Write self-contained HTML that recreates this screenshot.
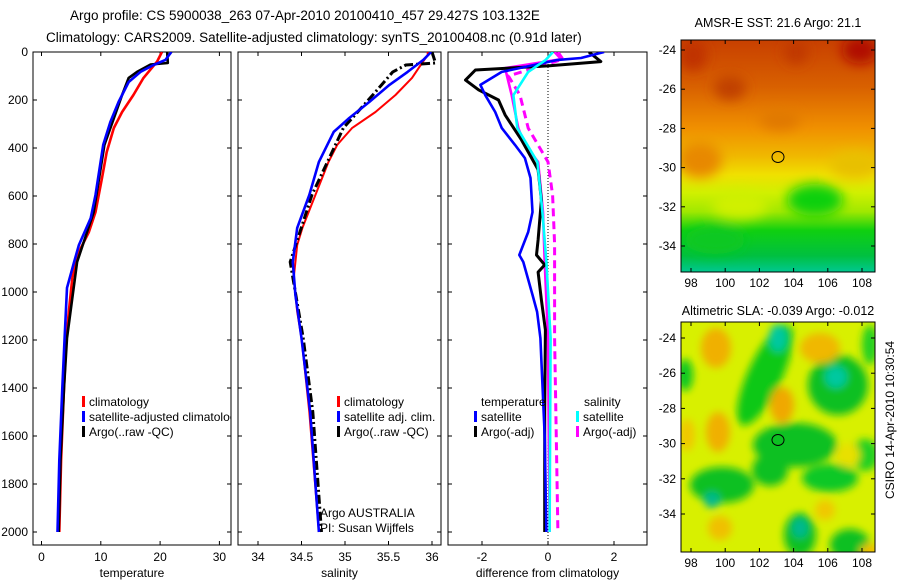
<!DOCTYPE html>
<html><head><meta charset="utf-8"><style>
body{margin:0;background:#fff;}
svg text{font-family:"Liberation Sans",sans-serif;}
</style></head><body>
<svg id="fig" width="900" height="580" viewBox="0 0 900 580" xmlns="http://www.w3.org/2000/svg">
<defs>
<filter id="blur1" x="-20%" y="-20%" width="140%" height="140%"><feGaussianBlur stdDeviation="6"/></filter>
<filter id="blur2" x="-20%" y="-20%" width="140%" height="140%"><feGaussianBlur stdDeviation="4"/></filter>
<clipPath id="cm1"><rect x="681" y="40" width="194" height="232"/></clipPath>
<clipPath id="cm2"><rect x="681" y="322" width="194" height="230"/></clipPath>
<clipPath id="cp1"><rect x="33" y="52" width="198" height="493"/></clipPath>
<clipPath id="cp2"><rect x="238" y="52" width="203" height="493"/></clipPath>
<clipPath id="cp3"><rect x="448" y="52" width="199" height="493"/></clipPath>
<linearGradient id="sstg" x1="0" y1="0" x2="0" y2="1">
<stop offset="0" stop-color="#c84000"/><stop offset="0.2" stop-color="#d86000"/><stop offset="0.38" stop-color="#f09000"/>
<stop offset="0.5" stop-color="#f0b800"/><stop offset="0.58" stop-color="#f0e000"/><stop offset="0.66" stop-color="#d0f000"/>
<stop offset="0.74" stop-color="#a0e800"/><stop offset="0.82" stop-color="#10d010"/><stop offset="0.93" stop-color="#00c040"/><stop offset="1" stop-color="#00c890"/>
</linearGradient>
</defs>
<text x="70" y="20" font-size="13.5">Argo profile: CS 5900038_263 07-Apr-2010 20100410_457 29.427S 103.132E</text>
<text x="46" y="42" font-size="13.5">Climatology: CARS2009. Satellite-adjusted climatology: synTS_20100408.nc (0.91d later)</text>
<g id="p1"></g>
<g id="p2"></g>
<g id="p3"></g>

<g>
<text x="778" y="27" font-size="12.5" text-anchor="middle">AMSR-E SST: 21.6 Argo: 21.1</text>
<g clip-path="url(#cm1)">
<rect x="681" y="40" width="194" height="232" fill="url(#sstg)"/>
<g filter="url(#blur1)">
<ellipse cx="860" cy="50" rx="18" ry="14" fill="#b00800"/>
<ellipse cx="693" cy="55" rx="14" ry="16" fill="#c03000"/>
<ellipse cx="730" cy="88" rx="16" ry="12" fill="#c04000"/>
<ellipse cx="796" cy="52" rx="12" ry="12" fill="#c03800"/>
<ellipse cx="700" cy="160" rx="22" ry="18" fill="#e88800"/>
<ellipse cx="780" cy="120" rx="20" ry="10" fill="#e07800"/>
<ellipse cx="855" cy="165" rx="25" ry="14" fill="#e8c000"/>
<ellipse cx="815" cy="200" rx="28" ry="16" fill="#10d010"/>
<ellipse cx="740" cy="205" rx="28" ry="14" fill="#d0f000"/>
<ellipse cx="715" cy="240" rx="30" ry="14" fill="#10c820"/>
</g>
</g>
<rect x="681" y="40" width="194" height="232" fill="none" stroke="#000"/>
<ellipse cx="778" cy="157" rx="6" ry="5.5" fill="none" stroke="#000"/>
<g id="m1ax"></g>
</g>

<g>
<text x="778" y="315" font-size="12.5" text-anchor="middle">Altimetric SLA: -0.039 Argo: -0.012</text>
<g clip-path="url(#cm2)">
<rect x="681" y="322" width="194" height="230" fill="#d8f000"/>
<g filter="url(#blur2)">
<ellipse cx="765" cy="375" rx="17" ry="55" fill="#10c818" transform="rotate(25 765 375)"/>
<ellipse cx="795" cy="445" rx="42" ry="22" fill="#10c020"/>
<ellipse cx="770" cy="470" rx="18" ry="16" fill="#10c020"/>
<ellipse cx="838" cy="385" rx="30" ry="30" fill="#10c020"/>
<ellipse cx="865" cy="455" rx="14" ry="16" fill="#20d020"/>
<ellipse cx="722" cy="485" rx="32" ry="18" fill="#10c020"/>
<ellipse cx="830" cy="478" rx="28" ry="14" fill="#10c828"/>
<ellipse cx="800" cy="535" rx="16" ry="22" fill="#10c020"/>
<ellipse cx="850" cy="545" rx="20" ry="16" fill="#10c020"/>
<ellipse cx="685" cy="375" rx="8" ry="16" fill="#10c820"/>
<ellipse cx="870" cy="345" rx="8" ry="20" fill="#20d020"/>
<ellipse cx="778" cy="338" rx="9" ry="14" fill="#00c8a0"/>
<ellipse cx="836" cy="377" rx="11" ry="11" fill="#00c8a0"/>
<ellipse cx="800" cy="528" rx="8" ry="10" fill="#00b890"/>
<ellipse cx="712" cy="500" rx="8" ry="8" fill="#00b890"/>
<ellipse cx="716" cy="348" rx="15" ry="20" fill="#f0b000"/>
<ellipse cx="718" cy="432" rx="12" ry="20" fill="#f0b000"/>
<ellipse cx="687" cy="435" rx="8" ry="16" fill="#f0c800"/>
<ellipse cx="782" cy="405" rx="12" ry="18" fill="#f0a800"/>
<ellipse cx="820" cy="348" rx="20" ry="15" fill="#f0b800"/>
<ellipse cx="848" cy="455" rx="12" ry="12" fill="#e8e000"/>
<ellipse cx="720" cy="528" rx="12" ry="12" fill="#f0c000"/>
<ellipse cx="825" cy="510" rx="10" ry="10" fill="#f0c800"/>
<ellipse cx="870" cy="552" rx="10" ry="8" fill="#f0c000"/>
</g>
</g>
<rect x="681" y="322" width="194" height="230" fill="none" stroke="#000"/>
<ellipse cx="778" cy="440" rx="6" ry="5.5" fill="none" stroke="#000"/>
<g id="m2ax"></g>
</g>
<text transform="translate(894,420) rotate(-90)" font-size="12" text-anchor="middle">CSIRO 14-Apr-2010 10:30:54</text>
</svg>
<script>
// ---- data ----
const depthTempClim=[0,40,108,179,250,317,417,525,667,750,833,942,1083,1192,1400,1700,2000];
const tempClim=[20.3,19.5,17.2,15.5,13.6,12.2,11.0,10.2,9.1,8.0,6.3,5.2,4.6,4.2,3.8,3.3,3.0];
const depthTempSat=[0,33,54,83,125,208,292,387,596,692,804,875,983,1192,1400,1700,2000];
const tempSat=[21.9,20.9,18.9,16.7,14.7,13.0,11.6,10.4,9.1,8.3,6.3,5.5,4.3,3.9,3.5,3.0,2.7];
const depthTempArgo=[0,46,52,83,108,179,387,667,875,1192,1400,1700,2000];
const tempArgo=[21.2,21.3,18.4,16.1,14.7,13.6,10.6,8.8,6.0,4.3,3.8,3.2,2.9];
const depthSalClim=[0,12,54,108,179,250,317,387,458,596,733,804,942,1083,1192,1500,2000];
const salClim=[35.95,35.95,35.87,35.77,35.58,35.35,35.08,34.91,34.81,34.66,34.51,34.45,34.41,34.45,34.5,34.59,34.70];
const depthSalSat=[0,33,83,137,208,275,333,458,596,733,875,1012,1192,1500,2000];
const salSat=[35.99,35.9,35.72,35.51,35.28,35.05,34.87,34.70,34.59,34.45,34.40,34.43,34.5,34.6,34.70];
const depthSalArgo=[0,46,54,83,179,317,596,875,1192,1500,2000];
const salArgo=[36.0,36.04,35.70,35.55,35.32,34.98,34.62,34.37,34.52,34.63,34.73];
const depthDiffTArgo=[0,40,58,75,117,158,200,262,367,490,617,783,846,887,917,1033,1158,1500,2000];
const diffTArgo=[1.24,1.6,0,-2.2,-2.5,-2.1,-1.5,-1.3,-0.8,-0.3,-0.2,-0.3,-0.35,-0.1,-0.3,-0.2,-0.08,-0.1,-0.1];
const depthDiffTSat=[0,25,33,83,137,180,250,317,387,442,525,667,750,846,875,1012,1083,1192,1600,2000];
const diffTSat=[1.7,1.0,0.3,-1.4,-2.05,-1.9,-1.6,-1.4,-1.0,-0.7,-0.53,-0.47,-0.6,-0.87,-0.75,-0.47,-0.33,-0.23,-0.1,-0.05];
const depthDiffSArgo=[0,30,67,180,317,387,458,667,875,1192,2000];
const diffSArgo=[0.2,0.4,-1.3,-1.1,-0.9,-0.7,-0.3,-0.15,-0.1,0,0.05];
const depthDiffSArgoRaw=[0,30,100,180,317,458,596,800,1192,2000];
const diffSArgoRaw=[0.3,0.45,-1.2,-0.85,-0.6,0,0.14,0.2,0.2,0.3];
const depthDiffSSat=[0,33,83,180,317,458,667,875,1192,2000];
const diffSSat=[0.15,-0.07,-0.6,-1.05,-0.93,-0.32,-0.17,-0.05,0.08,0.05];
const depthTicks=[0,200,400,600,800,1000,1200,1400,1600,1800,2000];
const tempTicks=[0,10,20,30];
const salTicks=[34,34.5,35,35.5,36];
const diffTicks=[-2,0,2];
const lonTicks=[98,100,102,104,106,108];
const latTicks=[-24,-26,-28,-30,-32,-34];

const NS='http://www.w3.org/2000/svg';
function mk(tag,attrs,parent,txt){const e=document.createElementNS(NS,tag);for(const k in attrs)e.setAttribute(k,attrs[k]);if(txt!==undefined)e.textContent=txt;parent.appendChild(e);return e;}
const yD=d=>52+d*0.24;
const P1={x0:33,x1:231,f:v=>41.5+v*5.93};
const P2={x0:238,x1:441,f:v=>258+(v-34)*87};
const P3={x0:448,x1:647,f:v=>548+v*33};

function frame(g,P,xt,title,ylabels,name){
  const r=mk('rect',{x:P.x0,y:52,width:P.x1-P.x0,height:493,fill:'none',stroke:'#000'},g);
  
  
  depthTicks.forEach(d=>{
    mk('line',{x1:P.x0,x2:P.x0+4,y1:yD(d),y2:yD(d),stroke:'#000'},g);
    mk('line',{x1:P.x1,x2:P.x1-4,y1:yD(d),y2:yD(d),stroke:'#000'},g);
    if(ylabels){const t=mk('text',{x:28,y:yD(d)+4,'font-size':12,'text-anchor':'end'},g,String(d));
      
      }
  });
  xt.forEach(v=>{const x=P.f(v);
    mk('line',{x1:x,x2:x,y1:52,y2:56,stroke:'#000'},g);
    mk('line',{x1:x,x2:x,y1:545,y2:541,stroke:'#000'},g);
    const t=mk('text',{x:x,y:561,'font-size':12,'text-anchor':'middle'},g,String(v));
    
    
  });
  const t=mk('text',{x:(P.x0+P.x1)/2,y:577,'font-size':12,'text-anchor':'middle'},g,title);
  
  
}
function line(g,P,ds,vs,color,name,extra,clip){
  const pts=ds.map((d,i)=>P.f(vs[i]).toFixed(1)+','+yD(d).toFixed(1)).join(' ');
  const a={points:pts,fill:'none',stroke:color,'stroke-width':2.6,'stroke-linejoin':'round','clip-path':clip};
  Object.assign(a,extra||{});
  const e=mk('polyline',a,g);
  
  
}
function legend(g,x,y,items,name){
  items.forEach((it,i)=>{
    if(it.c) mk('rect',{x:x,y:y+i*15-10,width:3,height:11,fill:it.c},g);
    const t=mk('text',{x:x+(it.c?7:0),y:y+i*15,'font-size':12},g,it.t);
    
    
  });
}
const g1=document.getElementById('p1'),g2=document.getElementById('p2'),g3=document.getElementById('p3');
frame(g1,P1,tempTicks,'temperature',true,'temperature');
line(g1,P1,depthTempClim,tempClim,'#f00','temp-climatology-line',{},'url(#cp1)');
line(g1,P1,depthTempArgo,tempArgo,'#000','temp-argo-line',{},'url(#cp1)');
line(g1,P1,depthTempSat,tempSat,'#00f','temp-satellite-line',{},'url(#cp1)');
const lg1=mk('g',{'clip-path':'url(#cp1)'},g1);
legend(lg1,82,406,[{t:'climatology',c:'#f00'},{t:'satellite-adjusted climatology',c:'#00f'},{t:'Argo(..raw -QC)',c:'#000'}],'temperature-legend');

frame(g2,P2,salTicks,'salinity',false,'salinity');
line(g2,P2,depthSalClim,salClim,'#f00','sal-climatology-line',{'stroke-width':2},'url(#cp2)');
line(g2,P2,depthSalArgo,salArgo,'#000','sal-argo-line',{'stroke-width':3,'stroke-dasharray':'9 3 2 3'},'url(#cp2)');
line(g2,P2,depthSalSat,salSat,'#00f','sal-satellite-line',{},'url(#cp2)');
legend(g2,337,406,[{t:'climatology',c:'#f00'},{t:'satellite adj. clim.',c:'#00f'},{t:'Argo(..raw -QC)',c:'#000'}],'salinity-legend');
legend(g2,320,517,[{t:'Argo AUSTRALIA'},{t:'PI: Susan Wijffels'}],'pi-credit');

frame(g3,P3,diffTicks,'difference from climatology',false,'difference');
mk('line',{x1:P3.f(0),x2:P3.f(0),y1:52,y2:545,stroke:'#000','stroke-dasharray':'1 2'},g3);
line(g3,P3,depthDiffSArgoRaw,diffSArgoRaw,'#f0f','sal-diff-argo-raw-line',{'stroke-dasharray':'8 5','stroke-width':3},'url(#cp3)');
line(g3,P3,depthDiffSArgo,diffSArgo,'#f0f','sal-diff-argo-line',{},'url(#cp3)');
line(g3,P3,depthDiffTArgo,diffTArgo,'#000','temp-diff-argo-line',{'stroke-width':3},'url(#cp3)');
line(g3,P3,depthDiffTSat,diffTSat,'#00f','temp-diff-satellite-line',{},'url(#cp3)');
line(g3,P3,depthDiffSSat,diffSSat,'#0ff','sal-diff-satellite-line',{},'url(#cp3)');
legend(g3,481,406,[{t:'temperature'}],'difference-legend');
legend(g3,474,421,[{t:'satellite',c:'#00f'},{t:'Argo(-adj)',c:'#000'}],'difference-legend');
legend(g3,584,406,[{t:'salinity'}],'difference-legend');
legend(g3,576,421,[{t:'satellite',c:'#0ff'},{t:'Argo(-adj)',c:'#f0f'}],'difference-legend');

function mapAxes(id,top,bot,latY){
  const g=document.getElementById(id);
  lonTicks.forEach(l=>{const x=691+(l-98)*17.1;
    mk('line',{x1:x,x2:x,y1:top,y2:top+4,stroke:'#000'},g);
    mk('line',{x1:x,x2:x,y1:bot,y2:bot-4,stroke:'#000'},g);
    const t=mk('text',{x:x,y:bot+15,'font-size':12,'text-anchor':'middle'},g,String(l));
    
    
  });
  latTicks.forEach(l=>{const y=latY(l);
    mk('line',{x1:681,x2:685,y1:y,y2:y,stroke:'#000'},g);
    mk('line',{x1:875,x2:871,y1:y,y2:y,stroke:'#000'},g);
    const t=mk('text',{x:676,y:y+4,'font-size':12,'text-anchor':'end'},g,String(l));
    
    
  });
}
mapAxes('m1ax',40,272,l=>50+(-24-l)*19.6);
mapAxes('m2ax',322,552,l=>338+(-24-l)*17.6);
</script>
</body></html>
